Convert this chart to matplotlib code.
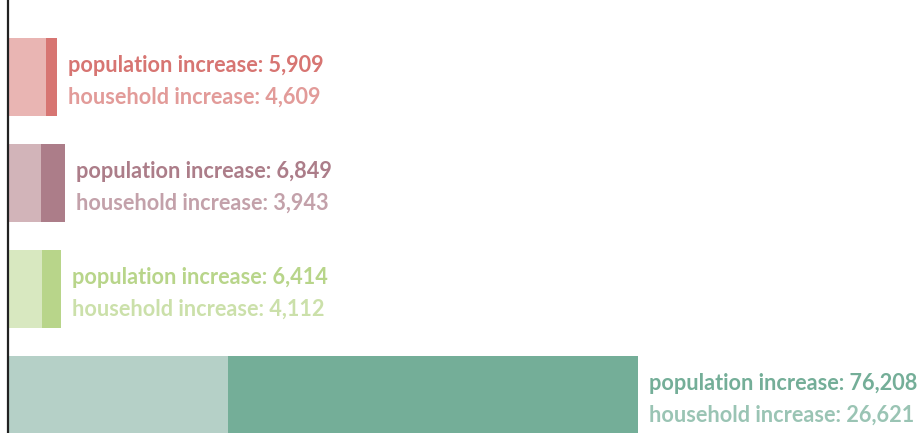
import matplotlib
matplotlib.use("Agg")
import matplotlib.pyplot as plt

categories = ["A", "B", "C", "D"]
population_increase = [5909, 6849, 6414, 76208]
household_increase = [4609, 3943, 4112, 26621]
dark_colors = ["#d77572", "#ac7d89", "#b8d58a", "#74ae98"]
light_colors = ["#e9b5b3", "#d2b4b9", "#d8e8c0", "#b5d0c7"]

fig = plt.figure(figsize=(9.17, 4.33), dpi=100)
ax = fig.add_axes([8 / 917, 0, 1 - 8 / 917, 1])

ypos = list(range(len(categories)))
ax.barh(ypos, population_increase, height=0.735, color=dark_colors, linewidth=0)
ax.barh(ypos, household_increase, height=0.735, color=light_colors, linewidth=0)

for i, (p, h) in enumerate(zip(population_increase, household_increase)):
    ax.annotate(f"population increase: {p:,}", xy=(p, i), xytext=(8, 3.5),
                textcoords="offset points", va="baseline", ha="left",
                fontsize=15.6, fontweight="bold", family="Lato", color=dark_colors[i])
    ax.annotate(f"household increase: {h:,}", xy=(p, i), xytext=(8, -19.5),
                textcoords="offset points", va="baseline", ha="left",
                fontsize=15.6, fontweight="bold", family="Lato", color=dark_colors[i], alpha=0.72)

ax.set_xlim(0, 909 / 630 * 76208)
ax.set_ylim(3.358, -0.726)
for s in ["top", "right", "bottom"]:
    ax.spines[s].set_visible(False)
ax.spines["left"].set_linewidth(1.6)
ax.spines["left"].set_color("#222222")
ax.set_xticks([])
ax.set_yticks([])
fig.savefig("out.png", dpi=100)
